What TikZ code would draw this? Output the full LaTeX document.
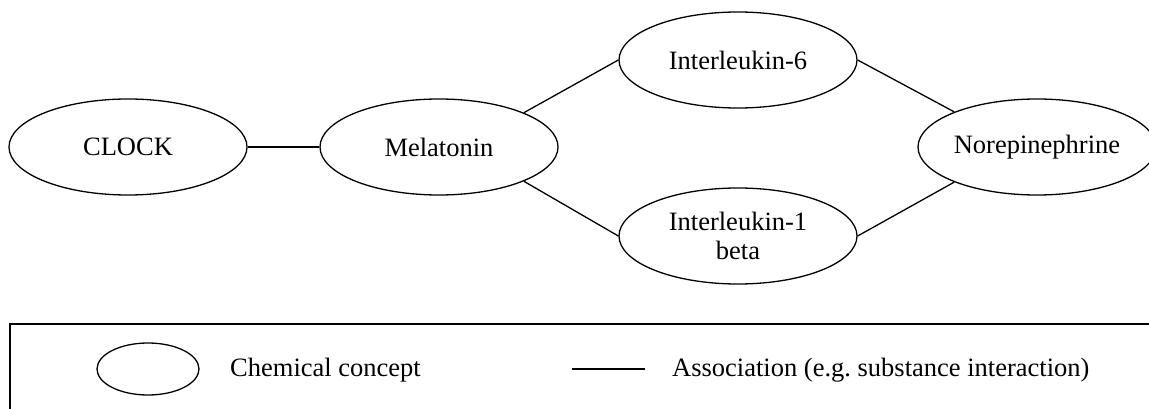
\documentclass[tikz,border=0pt]{standalone}
\usepackage{fontspec}
\setmainfont{Liberation Serif}
\usetikzlibrary{shapes.geometric}
\frenchspacing
\tikzset{
  concept/.style={ellipse, draw, line width=1.3pt, inner sep=0pt,
    minimum width=238pt, minimum height=96pt, align=center,
    font=\fontsize{26.5}{28.5}\selectfont},
  assoc/.style={line width=1.3pt},
  legtext/.style={anchor=west, inner sep=0pt, font=\fontsize{26.5}{28.5}\selectfont},
}
\begin{document}
\begin{tikzpicture}[x=1pt, y=-1pt]
  \useasboundingbox (0,0) rectangle (1149,409);
  % concept nodes
  \node[concept] (clock) at (128,147) {CLOCK};
  \node[concept] (mel)   at (439,147) {Melatonin};
  \node[concept] (il6)   at (738,60)  {Interleukin-6};
  \node[concept] (il1)   at (738,236) {Interleukin-1\\beta};
  \node[concept] (nor)   at (1037,147) {Norepinephrine};
  % associations
  \draw[assoc] (clock.east) -- (mel.west);
  \draw[assoc] (mel.22) -- (il6.west);
  \draw[assoc] (mel.-22) -- (il1.west);
  \draw[assoc] (il6.east) -- (nor.157);
  \draw[assoc] (il1.east) -- (nor.203);
  % legend frame (open to the right and below)
  \draw[line width=1.5pt] (10,430) -- (10,324) -- (1170,324);
  \node[ellipse, draw, line width=1.3pt, minimum width=102pt, minimum height=52pt, inner sep=0pt] (legell) at (148,369) {};
  \node[legtext] (legconcept) at (230,370) {Chemical concept};
  \coordinate (lega) at (572,369);
  \coordinate (legb) at (645,369);
  \draw[assoc] (lega) -- (legb);
  \node[legtext] (legassoc) at (672,370) {Association (e.g. substance interaction)};
\end{tikzpicture}
\end{document}
